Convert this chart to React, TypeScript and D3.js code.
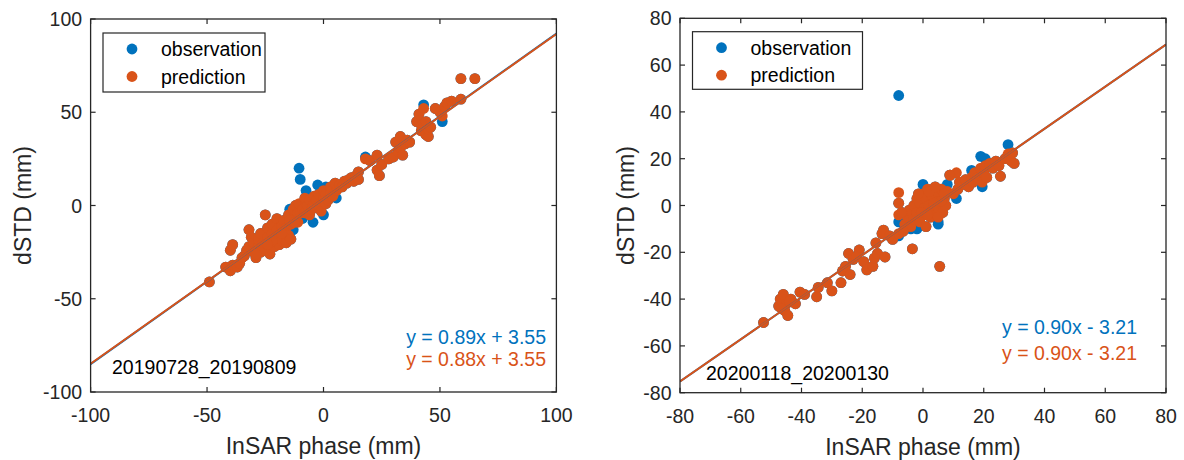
import React from "react";
import * as d3 from "d3";

// ---------- DATA ----------
// Panel 1: 20190728_20190809
const LEFT_INSAR = [
  -49, -42, -40, -39, -37, -36, -40, -39, -33, -34, -32, -32, -31, -30, -30, -29, -28, -28, -27, -27,
  -26, -25, -25, -24, -24, -23, -23, -22, -22, -21, -21, -20, -20, -19, -19, -18, -18, -17, -17, -16,
  -16, -15, -15, -14, -14, -13, -13, -13, -12, -11, -11, -10.5, -10, -7.5, -9, -8, -8, -7, -6, -6,
  -4.5, -5, -4, -2.5, -3, -2, -2, 0, -1, 0, 0, 1, 1, 2, 3, 3, 4, 5.5, 5, 6,
  7, 8, 9, 10, 11, 12, 13, 14, 15, 15, 18, 20, 23, 23, 24, 25, 28, 30, 31, 32,
  33, 33, 34, 35, 36, 37, 40, 41, 42, 42, 43, 44, 44, 45, 45, 46, 48, 50, 51, 52,
  53, 55, 59, 59, 65, -14.5, -12.5, -26, -22, -18, -35, -29, -24
];
const LEFT_OBS = [
  -41, -33, -35, -32, -33, -31, -24, -21, -24, -27, -22, -13, -17, -20, -25, -28, -22, -18, -25, -15,
  -20, -5, -23, -17, -12, -20, -26, -15, -10, -18, -22, -13, -7, -16, -21, -11, -19, -14, -8, -12,
  -20, -16, -5, -10, -18, -7, -2, -13, 0, -4, -8, 20, 14, 8, -7, 4, -4, 0, 3, -5,
  -9, -2, 5, 11, 3, 0, 6, -5, -3, 4, 8, 1, 10, 3, 7, 10, 5, 4, 12, 9,
  11, 10, 13, 12, 14, 15, 13, 16, 14, 18, 26, 24, 27, 19, 16, 22, 25, 26, 34, 29,
  37, 31, 27, 33, 35, 34, 45, 49, 40, 43, 54, 45, 38, 37, 41, 42, 52, 50, 45, 53,
  55, 56, 57, 68, 68, -2, -5, -24, -19, -15, -28, -26, -21
];
const LEFT_PRED = [
  -41, -33, -35, -32, -33, -31, -24, -21, -24, -27, -22, -13, -17, -20, -25, -28, -22, -18, -25, -15,
  -20, -5, -23, -17, -12, -20, -26, -15, -10, -18, -22, -13, -7, -16, -21, -11, -19, -14, -8, -12,
  -20, -16, -5, -10, -18, -7, -2, -9, 0, -4, -9, 1, -4, 2, -2, 4, -4, 0, 3, -5,
  0, -2, 5, 1, 3, 0, 6, 3, -3, 4, 8, 1, 6, 3, 7, 10, 5, 8, 12, 9,
  11, 10, 13, 12, 14, 15, 13, 16, 14, 18, 25, 24, 27, 19, 16, 22, 25, 26, 34, 29,
  37, 31, 27, 33, 35, 34, 45, 49, 40, 43, 52, 45, 38, 37, 41, 42, 52, 50, 48, 53,
  55, 56, 57, 68, 68, -8, -9, -24, -19, -15, -28, -26, -21
];
// fitted coefficients (shown rounded to two decimals)
const LEFT_FIT_OBS = [0.886, 3.55];
const LEFT_FIT_PRED = [0.884, 3.55];
const LEFT_TICKS = [-100, -50, 0, 50, 100];
const LEFT_DOMAIN = [-100, 100];
const LEFT_DATE = "20190728_20190809";

// Panel 2: 20200118_20200130
const RIGHT_INSAR = [
  -52.5, -47.5, -47, -46, -45.5, -44.5, -45, -43.5, -42, -40.5, -39, -35, -34.5, -31.5, -30, -27, -26.5, -25.5, -24, -24.5,
  -23, -21, -22, -19.5, -18.5, -16.5, -16, -15.5, -15, -12.5, -13, -13.5, -10, -8, -8, -8, -8, -3.5, 5.5, -6,
  -5, -4.5, -4, -3, -3, -2, -2, -1, -1, 0, 0, 0.5, 1, 1, 1.5, 2, 2.5, 3, 3, 3.5,
  4, 4.5, 5, 5, 5.5, 6, 6.5, 7, 7.5, 8, 9, 10, 11, 11.5, 12, 13, 14, 15, 16, 16.5,
  17, 18, 19, 19.5, 20, 20.5, 21, 22, 23, 24, 25, 25.5, 27, 28, 29, 29.5, 30, 8.8, -7, -1.5,
  2, 4, 6, -0.5, 3.5, 7, -46.5, -44, -11, -6.5, 1.5, 5
];
const RIGHT_OBS = [
  -50, -43, -40, -38, -45, -47, -42, -40, -42, -37, -38, -39, -35, -33, -36.5, -33, -28, -26, -29.5, -20.5,
  -23, -19, -22, -24, -27.5, -26, -22.5, -16, -20.5, -22, -10.5, -12, -14.5, -13, -7, 1, 47, -18.5, -26, -8,
  -5, -2, -10, -6, 0, -10, 3, -7, 1, -4, 9, -1, 3, -9, 7, 0, -5, 4, -2, 7,
  1, -4, 5, -7, 2, 7, -3, 3, 0, 9, 13, 5, 3, 7, 10, 9, 11, 8, 15, 10,
  14, 12, 21, 8, 14, 20, 12, 18, 16, 19, 17, 12.5, 20, 26, 19, 22.5, 18, 13, -3, 5,
  6, 8, 2, -3, 1, 5, -44, -41, -13, -11, -4, -8
];
const RIGHT_PRED = [
  -50, -43, -40, -38, -45, -47, -42, -40, -42, -37, -38, -39, -35, -33, -36.5, -33, -28, -26, -29.5, -20.5,
  -23, -19, -22, -24, -27.5, -26, -22.5, -16, -20.5, -22, -10.5, -12, -14.5, -12, -4, 1, 5.5, -18.5, -26, -8,
  -5, -2, -9, -6, 0, -3, 3, -7, 1, -4, 5, -1, 3, -9, 7, 0, -5, 4, -2, 7,
  1, -4, 5, -1, 2, 7, -3, 3, 0, 6, 13, 5, 14, 7, 10, 9, 11, 8, 12, 10,
  14, 12, 16, 10, 14, 17, 12, 18, 16, 19, 17, 12.5, 20, 22, 19, 22.5, 18, 13, -3, 5,
  6, 8, 2, -3, 1, 5, -44, -41, -13, -11, -4, -5
];
const RIGHT_FIT_OBS = [0.9, -3.21];
const RIGHT_FIT_PRED = [0.9, -3.21];
const RIGHT_TICKS = [-80, -60, -40, -20, 0, 20, 40, 60, 80];
const RIGHT_DOMAIN = [-80, 80];
const RIGHT_DATE = "20200118_20200130";

const LEGEND_LABELS = ["observation", "prediction"];

// ---------- STYLE ----------
const BLUE = "#0072BD";
const ORANGE = "#D95319";
const AXIS = "#262626";
const FONT = "'Liberation Sans', Arial, Helvetica, sans-serif";

function fmtEq(fit: number[]) {
  const [a, b] = fit;
  const sign = b < 0 ? "-" : "+";
  return `y = ${a.toFixed(2)}x ${sign} ${Math.abs(b).toFixed(2)}`;
}

type PanelProps = {
  id: string;
  xs: number[];
  obs: number[];
  pred: number[];
  fitObs: number[];
  fitPred: number[];
  ticks: number[];
  domain: number[];
  date: string;
  box: { left: number; right: number; top: number; bottom: number };
  legend: { x: number; y: number; w: number; h: number };
  eqRight: number;
  eqY: number[];
  dateX: number;
  dateY: number;
  yLabelX: number;
};

function Panel(p: PanelProps) {
  const x = d3.scaleLinear().domain(p.domain).range([p.box.left, p.box.right]);
  const y = d3.scaleLinear().domain(p.domain).range([p.box.bottom, p.box.top]);
  const tickLen = 5;
  const fitLine = (fit: number[]) =>
    d3.line<number>().x((v) => x(v)).y((v) => y(fit[0] * v + fit[1]))(p.domain) || "";
  const r = 5.4;
  const cx = (p.box.left + p.box.right) / 2;
  const cy = (p.box.top + p.box.bottom) / 2;
  return (
    <g fontFamily={FONT}>
      <defs>
        <clipPath id={`clip-${p.id}`}>
          <rect x={p.box.left} y={p.box.top} width={p.box.right - p.box.left} height={p.box.bottom - p.box.top} />
        </clipPath>
      </defs>
      <g clipPath={`url(#clip-${p.id})`}>
        {p.xs.map((v, i) => (
          <circle key={`o${i}`} cx={x(v)} cy={y(p.obs[i])} r={r} fill={BLUE} />
        ))}
        {p.xs.map((v, i) => (
          <circle key={`p${i}`} cx={x(v)} cy={y(p.pred[i])} r={r} fill={ORANGE} />
        ))}
        <path d={fitLine(p.fitObs)} stroke={BLUE} strokeWidth={2} fill="none" />
        <path d={fitLine(p.fitPred)} stroke={ORANGE} strokeWidth={2} fill="none" />
      </g>
      <rect
        x={p.box.left}
        y={p.box.top}
        width={p.box.right - p.box.left}
        height={p.box.bottom - p.box.top}
        fill="none"
        stroke={AXIS}
        strokeWidth={1.3}
      />
      {p.ticks.map((t) => (
        <g key={`xt${t}`}>
          <line x1={x(t)} x2={x(t)} y1={p.box.bottom} y2={p.box.bottom - tickLen} stroke={AXIS} strokeWidth={1.2} />
          <line x1={x(t)} x2={x(t)} y1={p.box.top} y2={p.box.top + tickLen} stroke={AXIS} strokeWidth={1.2} />
          <text x={x(t)} y={p.box.bottom + 30} textAnchor="middle" fontSize={19.5} fill={AXIS}>
            {t}
          </text>
        </g>
      ))}
      {p.ticks.map((t) => (
        <g key={`yt${t}`}>
          <line x1={p.box.left} x2={p.box.left + tickLen} y1={y(t)} y2={y(t)} stroke={AXIS} strokeWidth={1.2} />
          <line x1={p.box.right} x2={p.box.right - tickLen} y1={y(t)} y2={y(t)} stroke={AXIS} strokeWidth={1.2} />
          <text x={p.box.left - 8.5} y={y(t) + 7} textAnchor="end" fontSize={19.5} fill={AXIS}>
            {t}
          </text>
        </g>
      ))}
      <text x={cx} y={p.box.bottom + 62} textAnchor="middle" fontSize={23} fill={AXIS}>
        InSAR phase (mm)
      </text>
      <text
        transform={`translate(${p.yLabelX},${cy}) rotate(-90)`}
        textAnchor="middle"
        fontSize={23}
        fill={AXIS}
      >
        dSTD (mm)
      </text>
      <rect x={p.legend.x} y={p.legend.y} width={p.legend.w} height={p.legend.h} fill="#fff" stroke={AXIS} strokeWidth={1.2} />
      {LEGEND_LABELS.map((lab, i) => {
        const ly = p.legend.y + 16 + i * 27.5;
        return (
          <g key={lab}>
            <circle cx={p.legend.x + 29} cy={ly} r={r} fill={i === 0 ? BLUE : ORANGE} />
            <text x={p.legend.x + 58} y={ly + 7} fontSize={19.5} fill="#000">
              {lab}
            </text>
          </g>
        );
      })}
      <text x={p.eqRight} y={p.eqY[0]} textAnchor="end" fontSize={19.5} fill={BLUE}>
        {fmtEq(p.fitObs)}
      </text>
      <text x={p.eqRight} y={p.eqY[1]} textAnchor="end" fontSize={19.5} fill={ORANGE}>
        {fmtEq(p.fitPred)}
      </text>
      <text x={p.dateX} y={p.dateY} fontSize={19.5} fill="#000">
        {p.date}
      </text>
    </g>
  );
}

export default function App() {
  return (
    <div style={{ position: "absolute", left: 0, top: 0 }}>
      <svg width={1184} height={460} style={{ display: "block", background: "#fff" }}>
        <rect width={1184} height={460} fill="#fff" />
        <Panel
          id="left"
          xs={LEFT_INSAR}
          obs={LEFT_OBS}
          pred={LEFT_PRED}
          fitObs={LEFT_FIT_OBS}
          fitPred={LEFT_FIT_PRED}
          ticks={LEFT_TICKS}
          domain={LEFT_DOMAIN}
          date={LEFT_DATE}
          box={{ left: 90.6, right: 556.4, top: 19, bottom: 392 }}
          legend={{ x: 103, y: 33, w: 162, h: 59 }}
          eqRight={546}
          eqY={[343.5, 365.5]}
          dateX={112}
          dateY={374}
          yLabelX={31}
        />
        <Panel
          id="right"
          xs={RIGHT_INSAR}
          obs={RIGHT_OBS}
          pred={RIGHT_PRED}
          fitObs={RIGHT_FIT_OBS}
          fitPred={RIGHT_FIT_PRED}
          ticks={RIGHT_TICKS}
          domain={RIGHT_DOMAIN}
          date={RIGHT_DATE}
          box={{ left: 680, right: 1166, top: 18.3, bottom: 392.7 }}
          legend={{ x: 692.5, y: 31.7, w: 170, h: 57.6 }}
          eqRight={1137}
          eqY={[333.5, 360]}
          dateX={706}
          dateY={380}
          yLabelX={634}
        />
      </svg>
    </div>
  );
}
